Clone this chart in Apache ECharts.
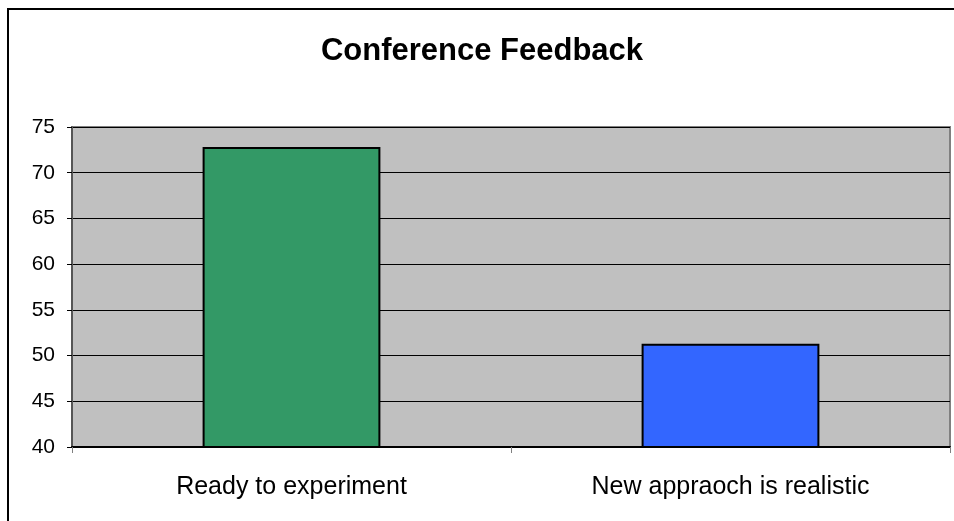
<!DOCTYPE html>
<html>
<head>
<meta charset="utf-8">
<script src="https://cdn.jsdelivr.net/npm/echarts@6/dist/echarts.min.js"></script>
<style>
html, body { margin: 0; padding: 0; background: #fff; }
#chart { width: 954px; height: 521px; }
</style>
</head>
<body>
<div id="chart"></div>
<script>
// chart data
var categories = ['Ready to experiment', 'New appraoch is realistic'];
var feedback = [72.8, 51.3];
var barColors = ['#339966', '#3366ff'];

var chart = echarts.init(document.getElementById('chart'));

var option = {
    animation: false,
    textStyle: { fontFamily: 'Liberation Sans, Arial, sans-serif' },
    title: {
        text: 'Conference Feedback',
        left: 477,
        top: 31,
        textAlign: 'center',
        textStyle: { fontSize: 31, fontWeight: 'bold', color: '#000' }
    },
    graphic: [{
        type: 'rect',
        shape: { x: 8, y: 9, width: 1000, height: 600 },
        style: { fill: 'none', stroke: '#000', lineWidth: 2 },
        z: 100
    }],
    grid: {
        left: 72,
        top: 127,
        right: 4,
        bottom: 74,
        show: true,
        backgroundColor: '#c0c0c0',
        borderColor: '#808080',
        borderWidth: 2
    },
    xAxis: {
        type: 'category',
        data: categories,
        axisLine: { lineStyle: { color: '#000', width: 2 } },
        axisTick: { show: true, alignWithLabel: false, length: 6, lineStyle: { color: '#808080' } },
        axisLabel: { fontSize: 25, color: '#000', margin: 28 }
    },
    yAxis: {
        type: 'value',
        min: 40,
        max: 75,
        interval: 5,
        axisLine: { show: true, lineStyle: { color: '#555', width: 2 } },
        axisTick: { show: true, length: 5, lineStyle: { color: '#000' } },
        axisLabel: { fontSize: 21, color: '#000', margin: 17 },
        splitLine: { lineStyle: { color: '#000', width: 1 } }
    },
    series: [{
        type: 'bar',
        barWidth: '40.5%',
        data: feedback.map(function (v, i) {
            return { value: v, itemStyle: { color: barColors[i] } };
        }),
        itemStyle: { borderColor: '#000', borderWidth: 2 }
    }]
};

chart.setOption(option);
</script>
</body>
</html>
